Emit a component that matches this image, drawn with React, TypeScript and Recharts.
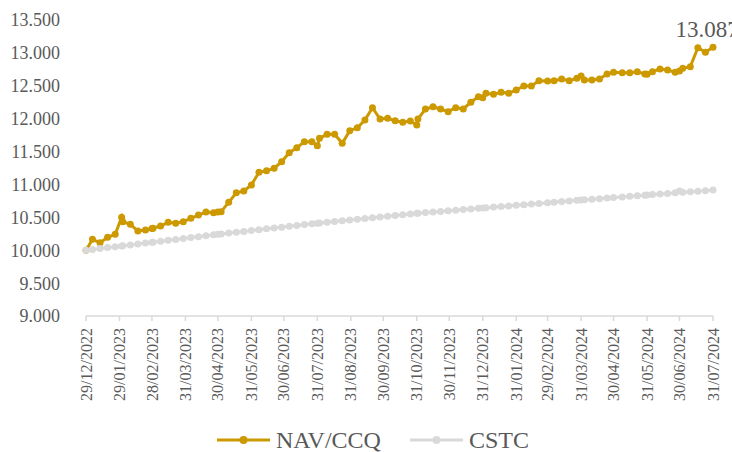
import React from 'react';
import { LineChart, Line, XAxis, YAxis } from 'recharts';

// weekly valuation dates (plus month-ends)
const DATES = [
  '2022-12-29', '2023-01-04', '2023-01-11', '2023-01-18', '2023-01-25', '2023-01-31', '2023-02-01',
  '2023-02-08', '2023-02-15', '2023-02-22', '2023-02-28', '2023-03-01', '2023-03-08', '2023-03-15',
  '2023-03-22', '2023-03-29', '2023-04-05', '2023-04-12', '2023-04-19', '2023-04-26', '2023-04-30',
  '2023-05-03', '2023-05-10', '2023-05-17', '2023-05-24', '2023-05-31', '2023-06-07', '2023-06-14',
  '2023-06-21', '2023-06-28', '2023-07-05', '2023-07-12', '2023-07-19', '2023-07-26', '2023-07-31',
  '2023-08-02', '2023-08-09', '2023-08-16', '2023-08-23', '2023-08-30', '2023-09-06', '2023-09-13',
  '2023-09-20', '2023-09-27', '2023-10-04', '2023-10-11', '2023-10-18', '2023-10-25', '2023-10-31',
  '2023-11-01', '2023-11-08', '2023-11-15', '2023-11-22', '2023-11-29', '2023-12-06', '2023-12-13',
  '2023-12-20', '2023-12-27', '2023-12-31', '2024-01-03', '2024-01-10', '2024-01-17', '2024-01-24',
  '2024-01-31', '2024-02-07', '2024-02-14', '2024-02-21', '2024-02-29', '2024-03-06', '2024-03-13',
  '2024-03-20', '2024-03-27', '2024-03-31', '2024-04-03', '2024-04-10', '2024-04-17', '2024-04-24',
  '2024-04-30', '2024-05-08', '2024-05-15', '2024-05-22', '2024-05-29', '2024-05-31', '2024-06-05',
  '2024-06-12', '2024-06-19', '2024-06-26', '2024-06-30', '2024-07-03', '2024-07-10', '2024-07-17',
  '2024-07-24', '2024-07-31',
];

const NAV = [
  10000, 10166, 10114, 10196, 10242, 10500, 10434,
  10394, 10292, 10307, 10330, 10335, 10368, 10424,
  10409, 10434, 10485, 10535, 10581, 10570, 10581,
  10586, 10728, 10874, 10900, 10991, 11185, 11209,
  11245, 11346, 11483, 11559, 11650, 11650, 11589,
  11701, 11762, 11762, 11625, 11817, 11863, 11980,
  12167, 11995, 12005, 11969, 11945, 11964, 11904,
  11995, 12147, 12182, 12147, 12106, 12167, 12147,
  12249, 12334, 12319, 12386, 12370, 12401, 12386,
  12436, 12497, 12497, 12577, 12572, 12577, 12603,
  12577, 12613, 12649, 12588, 12588, 12603, 12679,
  12705, 12699, 12699, 12714, 12679, 12674, 12714,
  12755, 12740, 12705, 12725, 12766, 12790, 13079,
  13009, 13087,
];

const CSTC = [
  10000, 10012, 10026, 10040, 10053, 10065, 10067,
  10081, 10095, 10109, 10121, 10123, 10137, 10150,
  10164, 10178, 10192, 10206, 10220, 10234, 10242,
  10247, 10260, 10273, 10286, 10299, 10312, 10325,
  10338, 10351, 10364, 10377, 10390, 10402, 10411,
  10414, 10425, 10437, 10448, 10460, 10471, 10483,
  10494, 10506, 10517, 10529, 10540, 10551, 10561,
  10563, 10572, 10581, 10590, 10600, 10609, 10618,
  10628, 10637, 10642, 10646, 10656, 10665, 10674,
  10684, 10693, 10702, 10712, 10722, 10730, 10739,
  10749, 10758, 10763, 10767, 10776, 10784, 10793,
  10801, 10811, 10820, 10828, 10837, 10840, 10846,
  10855, 10864, 10872, 10900, 10880, 10889, 10898,
  10906, 10915,
];

const X_TICKS = [
  '2022-12-29', '2023-01-29', '2023-02-28', '2023-03-31', '2023-04-30', '2023-05-31', '2023-06-30',
  '2023-07-31', '2023-08-31', '2023-09-30', '2023-10-31', '2023-11-30', '2023-12-31', '2024-01-31',
  '2024-02-29', '2024-03-31', '2024-04-30', '2024-05-31', '2024-06-30', '2024-07-31',
];
const Y_TICKS = [9000, 9500, 10000, 10500, 11000, 11500, 12000, 12500, 13000, 13500];

const GOLD = '#CC9900';
const GREY = '#D9D9D9';
const TEXT = '#595959';
const FONT = '"Liberation Serif", "Times New Roman", serif';

const toTime = (s: string) => {
  const [y, m, d] = s.split('-').map(Number);
  return Date.UTC(y, m - 1, d);
};
const pad = (n: number) => (n < 10 ? '0' + n : String(n));
const fmtDate = (t: number) => {
  const d = new Date(t);
  return `${pad(d.getUTCDate())}/${pad(d.getUTCMonth() + 1)}/${d.getUTCFullYear()}`;
};
const fmtNum = (v: number) => String(v).replace(/\B(?=(\d{3})+(?!\d))/g, '.');

const data = DATES.map((d, i) => ({ t: toTime(d), nav: NAV[i], cstc: CSTC[i] }));
const xTicks = X_TICKS.map(toTime);

const DateTick = ({ x, y, payload }: any) => (
  <g transform={`translate(${x},${y})`}>
    <text
      transform="rotate(-90)"
      x={-5}
      y={0}
      dy="0.35em"
      textAnchor="end"
      fill={TEXT}
      fontSize={16}
      fontFamily={FONT}
    >
      {fmtDate(payload.value)}
    </text>
  </g>
);

// only the last NAV point carries a label
const LastLabel = (props: any) => {
  if (props.index !== data.length - 1) return null;
  return (
    <text x={props.x - 6} y={props.y - 10} textAnchor="middle" fill={TEXT} fontSize={23} fontFamily={FONT}>
      {fmtNum(props.value)}
    </text>
  );
};

const LegendItem = ({ color, label, style }: { color: string; label: string; style?: React.CSSProperties }) => (
  <div style={{ display: 'flex', alignItems: 'center', ...style }}>
    <svg width={53} height={10}>
      <line x1={0} y1={5} x2={53} y2={5} stroke={color} strokeWidth={3} />
      <circle cx={26.5} cy={5} r={4} fill={color} />
    </svg>
    <span style={{ marginLeft: 6 }}>{label}</span>
  </div>
);

export default function App() {
  return (
    <div style={{ position: 'absolute', left: 0, top: 0, width: 732, height: 452, background: '#fff' }}>
      <LineChart width={732} height={452} data={data} margin={{ top: 20, right: 19, left: 0, bottom: 40 }}>
        <XAxis
          dataKey="t"
          type="number"
          scale="time"
          domain={[xTicks[0], xTicks[xTicks.length - 1]]}
          ticks={xTicks}
          interval={0}
          height={96}
          tick={<DateTick />}
          stroke={GREY}
          strokeWidth={1.5}
          tickSize={5}
          tickMargin={2}
        />
        <YAxis
          type="number"
          domain={[9000, 13500]}
          ticks={Y_TICKS}
          interval={0}
          width={86}
          axisLine={false}
          tickLine={false}
          tickSize={0}
          tickMargin={26}
          tickFormatter={fmtNum}
          tick={{ fill: TEXT, fontSize: 18, fontFamily: FONT }}
        />
        <Line
          dataKey="nav"
          stroke={GOLD}
          strokeWidth={3}
          dot={{ r: 3.5, fill: GOLD, stroke: GOLD, strokeWidth: 0 }}
          activeDot={false}
          label={<LastLabel />}
          isAnimationActive={false}
        />
        <Line
          dataKey="cstc"
          stroke={GREY}
          strokeWidth={3}
          dot={{ r: 3.5, fill: GREY, stroke: GREY, strokeWidth: 0 }}
          activeDot={false}
          isAnimationActive={false}
        />
      </LineChart>
      <div
        style={{
          position: 'absolute',
          left: 7,
          top: 429,
          width: 732,
          height: 22,
          display: 'flex',
          justifyContent: 'center',
          alignItems: 'center',
          fontFamily: FONT,
          fontSize: 24,
          lineHeight: 1,
          color: TEXT,
        }}
      >
        <LegendItem color={GOLD} label="NAV/CCQ" />
        <LegendItem color={GREY} label="CSTC" style={{ marginLeft: 29 }} />
      </div>
    </div>
  );
}
